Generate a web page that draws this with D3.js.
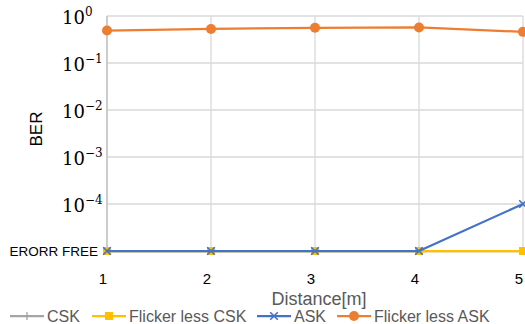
<!DOCTYPE html>
<html><head><meta charset="utf-8">
<script src="https://cdn.jsdelivr.net/npm/d3@7"></script>
<style>
html,body{margin:0;padding:0;background:#fff;}
svg{display:block;}
</style></head>
<body>
<svg id="chart" width="525" height="324"></svg>
<script>
// ---- data ----
const ERROR_FREE = 1e-5; // plotted level for "ERORR FREE"
const distances = [1, 2, 3, 4, 5];
const csk = [ERROR_FREE, ERROR_FREE, ERROR_FREE, ERROR_FREE, ERROR_FREE];
const flickerLessCsk = [ERROR_FREE, ERROR_FREE, ERROR_FREE, ERROR_FREE, ERROR_FREE];
const ask = [ERROR_FREE, ERROR_FREE, ERROR_FREE, ERROR_FREE, 1e-4];
const flickerLessAsk = [0.49, 0.53, 0.56, 0.57, 0.46];
const yTickValues = [1, 1e-1, 1e-2, 1e-3, 1e-4];
const yTickExponents = ["0", "−1", "−2", "−3", "−4"];
const errorFreeLabel = "ERORR FREE";
const xTitle = "Distance[m]";
const yTitle = "BER";
const seriesNames = ["CSK", "Flicker less CSK", "ASK", "Flicker less ASK"];

const series = [
  {name: seriesNames[0], values: csk, color: "#A5A5A5", marker: "plus"},
  {name: seriesNames[1], values: flickerLessCsk, color: "#FFC000", marker: "square"},
  {name: seriesNames[2], values: ask, color: "#4472C4", marker: "cross"},
  {name: seriesNames[3], values: flickerLessAsk, color: "#ED7D31", marker: "circle"}
];

const svg = d3.select("#chart");
const x = d3.scaleLinear().domain([1, 5]).range([107, 523]);
const y = d3.scaleLog().domain([ERROR_FREE, 1]).range([251, 16]);

// gridlines
const grid = svg.append("g");
grid.selectAll("line.h").data(yTickValues).join("line")
  .attr("x1", x(1)).attr("x2", x(5))
  .attr("y1", d => y(d)).attr("y2", d => y(d))
  .attr("stroke", "#D9D9D9").attr("stroke-width", 1.3);
grid.append("line")
  .attr("x1", x(1)).attr("x2", x(5))
  .attr("y1", y(ERROR_FREE)).attr("y2", y(ERROR_FREE))
  .attr("stroke", "#D9D9D9").attr("stroke-width", 1.3);
grid.selectAll("line.v").data(distances).join("line")
  .attr("x1", d => x(d)).attr("x2", d => x(d))
  .attr("y1", y(1)).attr("y2", y(ERROR_FREE))
  .attr("stroke", "#D9D9D9").attr("stroke-width", 1.3);

// y tick labels (10^n)
const yl = svg.append("g");
yTickValues.forEach((v, i) => {
  const t = yl.append("text")
    .attr("x", 62).attr("y", y(v) + 8)
    .attr("font-family", "DejaVu Serif")
    .attr("font-size", 18).attr("fill", "#000");
  t.append("tspan").text("10");
  t.append("tspan").attr("dy", -8).attr("font-size", 12).text(yTickExponents[i]);
});
svg.append("text")
  .attr("x", 98).attr("y", y(ERROR_FREE) + 5)
  .attr("text-anchor", "end")
  .attr("font-family", "Liberation Sans").attr("font-size", 13.5)
  .attr("fill", "#000").text(errorFreeLabel);

// x tick labels
svg.append("g").selectAll("text").data(distances).join("text")
  .attr("x", d => x(d) - 4).attr("y", 284)
  .attr("text-anchor", "middle")
  .attr("font-family", "Liberation Sans").attr("font-size", 15)
  .attr("fill", "#000").text(d => d);

// axis titles
svg.append("text")
  .attr("x", 319).attr("y", 305)
  .attr("text-anchor", "middle")
  .attr("font-family", "Liberation Sans").attr("font-size", 18)
  .attr("fill", "#595959").text(xTitle);
svg.append("text")
  .attr("transform", "translate(42,129) rotate(-90)")
  .attr("text-anchor", "middle")
  .attr("font-family", "Liberation Sans").attr("font-size", 17)
  .attr("fill", "#000").text(yTitle);

// markers
function drawMarker(g, type, color, cx, cy, scale) {
  const s = scale || 1;
  if (type === "circle") {
    g.append("circle").attr("cx", cx).attr("cy", cy).attr("r", 5 * s).attr("fill", color);
  } else if (type === "square") {
    g.append("rect").attr("x", cx - 4 * s).attr("y", cy - 4 * s)
      .attr("width", 8 * s).attr("height", 8 * s).attr("fill", color);
  } else if (type === "cross") {
    const r = 3.8 * s;
    g.append("path").attr("d", `M${cx - r},${cy - r}L${cx + r},${cy + r}M${cx - r},${cy + r}L${cx + r},${cy - r}`)
      .attr("stroke", color).attr("stroke-width", 1.6).attr("fill", "none");
  } else if (type === "plus") {
    const r = 4 * s;
    g.append("path").attr("d", `M${cx - r},${cy}L${cx + r},${cy}M${cx},${cy - r}L${cx},${cy + r}`)
      .attr("stroke", color).attr("stroke-width", 1.3).attr("fill", "none");
  }
}

// axis line
svg.append("line").attr("x1", x(1)).attr("x2", x(1)).attr("y1", y(1)).attr("y2", y(ERROR_FREE))
  .attr("stroke", "#BFBFBF").attr("stroke-width", 1.3);

const line = d3.line().x((d, i) => x(distances[i])).y(d => y(d));
series.forEach(s => {
  const g = svg.append("g");
  g.append("path").attr("d", line(s.values)).attr("fill", "none")
    .attr("stroke", s.color).attr("stroke-width", 2.25).attr("stroke-linejoin", "round");
  s.values.forEach((v, i) => drawMarker(g, s.marker, s.color, x(distances[i]), y(v)));
});

// legend
const legendX = [10, 92, 257, 337];
const lg = svg.append("g");
series.forEach((s, i) => {
  const lx = legendX[i], ly = 316;
  lg.append("line").attr("x1", lx).attr("x2", lx + 34).attr("y1", ly).attr("y2", ly)
    .attr("stroke", s.color).attr("stroke-width", 2.25);
  drawMarker(lg, s.marker, s.color, lx + 17, ly, 1);
  lg.append("text").attr("x", lx + 37).attr("y", ly + 6)
    .attr("font-family", "Liberation Sans").attr("font-size", 16)
    .attr("fill", "#595959").text(s.name);
});
</script>
</body></html>
